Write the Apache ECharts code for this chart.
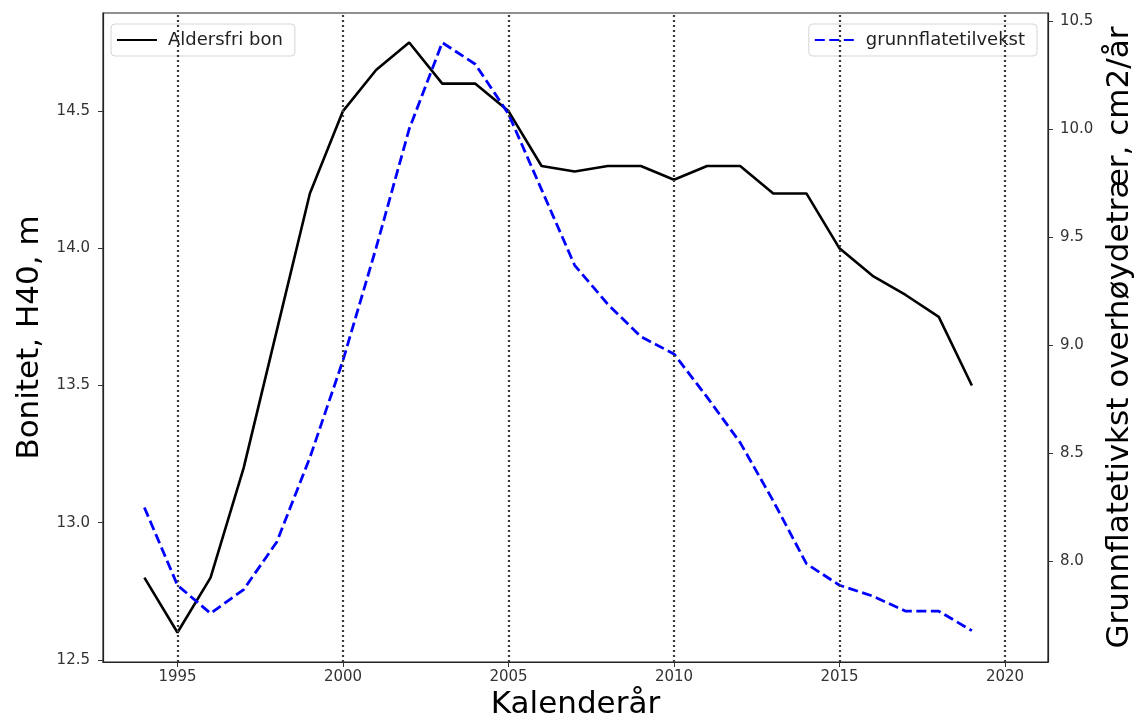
<!DOCTYPE html>
<html>
<head>
<meta charset="utf-8">
<script src="https://cdn.jsdelivr.net/npm/echarts@6/dist/echarts.min.js"></script>
<style>
  html, body { margin: 0; padding: 0; background: #fff; }
  #chart { width: 1140px; height: 724px; }
</style>
</head>
<body>
<div id="chart"></div>
<script>
// Calendar years on the x axis
const years = [1994, 1995, 1996, 1997, 1998, 1999, 2000, 2001, 2002, 2003, 2004, 2005, 2006,
               2007, 2008, 2009, 2010, 2011, 2012, 2013, 2014, 2015, 2016, 2017, 2018, 2019];

// Site index (age-independent), H40 in metres
const aldersfriBon = [12.8, 12.6, 12.8, 13.2, 13.7, 14.2, 14.5, 14.65, 14.75, 14.6, 14.6, 14.5, 14.3,
                      14.28, 14.3, 14.3, 14.25, 14.3, 14.3, 14.2, 14.2, 14.0, 13.9, 13.83, 13.75, 13.5];

// Basal area increment of dominant trees, cm2 per year
const grunnflatetilvekst = [8.25, 7.89, 7.76, 7.87, 8.09, 8.48, 8.93, 9.45, 10.0, 10.4, 10.3, 10.07, 9.72,
                            9.37, 9.19, 9.04, 8.96, 8.76, 8.55, 8.28, 7.99, 7.89, 7.84, 7.77, 7.77, 7.68];

// Tick labels
const xTicks = [1995, 2000, 2005, 2010, 2015, 2020];
const leftTicks = [12.5, 13.0, 13.5, 14.0, 14.5];
const rightTicks = [8.0, 8.5, 9.0, 9.5, 10.0, 10.5];

const FONT = 'DejaVu Sans';
const tickText = { fontFamily: FONT, fontSize: 15, color: '#333' };
const nameText = { fontFamily: FONT, fontSize: 31, color: '#000' };

const legendBase = {
  top: 24,
  itemWidth: 40, itemHeight: 14, itemGap: 10,
  padding: [7, 12, 7, 5],
  borderColor: '#d5d5d5', borderWidth: 1, borderRadius: 4,
  backgroundColor: 'rgba(255,255,255,0.8)',
  itemStyle: { opacity: 0 },
  textStyle: { fontFamily: FONT, fontSize: 18, color: '#222', padding: [0, 0, 0, 6] }
};

const chart = echarts.init(document.getElementById('chart'), null, { renderer: 'canvas' });

chart.setOption({
  backgroundColor: '#fff',
  animation: false,
  grid: {
    left: 103, right: 92, top: 13, bottom: 62,
    containLabel: false,
    outerBoundsMode: 'none',
    show: true, borderColor: '#222', borderWidth: 1.2, backgroundColor: 'transparent'
  },
  legend: [
    Object.assign({ data: ['Aldersfri bon'], left: 111 }, legendBase),
    Object.assign({ data: ['grunnflatetilvekst'], right: 103 }, legendBase)
  ],
  xAxis: {
    type: 'value',
    min: 1992.75, max: 2021.3,
    name: 'Kalenderår', nameLocation: 'middle', nameGap: 26, nameTextStyle: nameText,
    axisLine: { show: true, lineStyle: { color: '#222', width: 1.2 } },
    axisTick: { show: true, inside: false, length: 5, customValues: xTicks, lineStyle: { color: '#333' } },
    axisLabel: { customValues: xTicks, margin: 8, ...tickText, formatter: v => String(v) },
    splitLine: { show: false }
  },
  yAxis: [
    {
      type: 'value', position: 'left',
      min: 12.4925, max: 14.8575,
      name: 'Bonitet, H40, m', nameLocation: 'middle', nameRotate: 90, nameGap: 52, nameTextStyle: nameText,
      axisLine: { show: true, lineStyle: { color: '#222', width: 1.2 } },
      axisTick: { show: true, length: 5, customValues: leftTicks, lineStyle: { color: '#333' } },
      axisLabel: { customValues: leftTicks, margin: 13, ...tickText, formatter: v => v.toFixed(1) },
      splitLine: { show: false }
    },
    {
      type: 'value', position: 'right',
      min: 7.535, max: 10.537,
      name: 'Grunnflatetivkst overhøydetrær, cm2/år', nameLocation: 'middle', nameRotate: 90, nameGap: 55,
      nameTextStyle: nameText,
      axisLine: { show: true, lineStyle: { color: '#222', width: 1.2 } },
      axisTick: { show: true, length: 5, customValues: rightTicks, lineStyle: { color: '#333' } },
      axisLabel: { customValues: rightTicks, margin: 12, ...tickText, formatter: v => v.toFixed(1) },
      splitLine: { show: false }
    }
  ],
  series: [
    {
      // vertical dotted reference lines at the labelled years
      name: 'rutenett',
      type: 'line',
      data: [],
      z: 1,
      silent: true,
      markLine: {
        silent: true,
        symbol: ['none', 'none'],
        label: { show: false },
        lineStyle: { type: [2, 3], color: '#3a3a3a', width: 2.2 },
        emphasis: { disabled: true },
        data: xTicks.map(y => ({ xAxis: y }))
      }
    },
    {
      name: 'Aldersfri bon',
      type: 'line',
      yAxisIndex: 0,
      z: 3,
      symbol: 'none',
      data: years.map((y, i) => [y, aldersfriBon[i]]),
      lineStyle: { color: '#000', width: 2.6 },
      itemStyle: { color: '#000' }
    },
    {
      name: 'grunnflatetilvekst',
      type: 'line',
      yAxisIndex: 1,
      z: 3,
      symbol: 'none',
      data: years.map((y, i) => [y, grunnflatetilvekst[i]]),
      lineStyle: { color: '#0000ff', width: 2.8, type: [10, 4.5] },
      itemStyle: { color: '#0000ff' }
    }
  ]
});
</script>
</body>
</html>
